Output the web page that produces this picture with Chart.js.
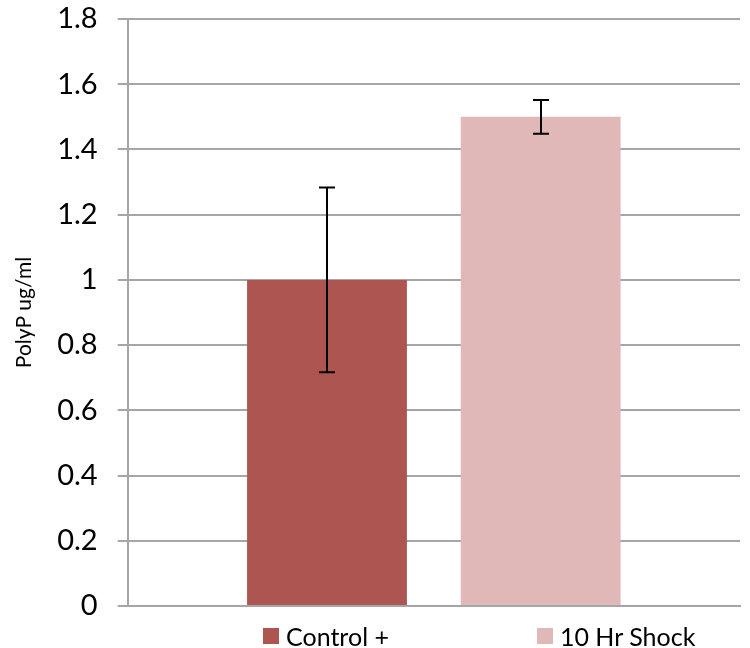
<!DOCTYPE html>
<html>
<head>
<meta charset="utf-8">
<script src="https://cdn.jsdelivr.net/npm/chart.js@4"></script>
<style>
  body { margin: 0; background: #fff; }
  .wrap { position: relative; width: 750px; height: 648px; }
  #legend {
    position: absolute; left: 263px; top: 621px;
    display: flex; align-items: center;
    font-family: Lato, "Open Sans", sans-serif; font-size: 25px; color: #000;
  }
  .item { display: flex; align-items: center; }
  .item + .item { margin-left: 148px; }
  .box { width: 16px; height: 16px; margin-right: 7px; }
</style>
</head>
<body>
<div class="wrap">
  <canvas id="polyp-chart" width="750" height="648"></canvas>
  <div id="legend"></div>
</div>
<script>
// bar chart with error bars

const categories = [''];
const seriesNames = ['Control +', '10 Hr Shock'];
const seriesValues = [[1.0], [1.5]];
const seriesErrors = [[0.283], [0.052]];
const seriesColors = ['#AD5651', '#E0B8B7'];
const yTicks = [0, 0.2, 0.4, 0.6, 0.8, 1, 1.2, 1.4, 1.6, 1.8];

const gridGray = '#A6A6A6';
const fontName = 'Lato, "Open Sans", sans-serif';

const polypCanvas = document.getElementById('polyp-chart');

const polypData = {
    labels: categories,
    datasets: seriesNames.map((name, i) => ({
        label: name,
        data: seriesValues[i],
        errors: seriesErrors[i],
        backgroundColor: seriesColors[i],
        borderWidth: 0,
        categoryPercentage: 0.698,
        barPercentage: 0.748
    }))
};

// draws the whiskers on top of each bar
const errorBars = {
    id: 'errorBars',
    afterDatasetsDraw(chart) {
        const ctx = chart.ctx;
        const yScale = chart.scales.y;
        ctx.save();
        ctx.strokeStyle = '#000';
        ctx.lineWidth = 2;
        chart.data.datasets.forEach((ds, i) => {
            const meta = chart.getDatasetMeta(i);
            meta.data.forEach((bar, j) => {
                const v = ds.data[j];
                const e = ds.errors[j];
                const top = yScale.getPixelForValue(v + e);
                const bottom = yScale.getPixelForValue(v - e);
                const x = Math.round(bar.x);
                const cap = 8;
                ctx.beginPath();
                ctx.moveTo(x, top);
                ctx.lineTo(x, bottom);
                ctx.moveTo(x - cap, top);
                ctx.lineTo(x + cap, top);
                ctx.moveTo(x - cap, bottom);
                ctx.lineTo(x + cap, bottom);
                ctx.stroke();
            });
        });
        ctx.restore();
    }
};

const polypOptions = {
    responsive: false,
    devicePixelRatio: 1,
    animation: false,
    layout: {
        padding: { top: 19, right: 10, left: 8, bottom: 34 }
    },
    scales: {
        x: {
            grid: { display: false },
            border: { color: gridGray, width: 2 },
            ticks: { display: false }
        },
        y: {
            min: 0,
            max: 1.8,
            afterBuildTicks: (axis) => {
                axis.ticks = yTicks.map(v => ({ value: v }));
            },
            // let the layout padding decide the top edge
            afterFit: (axis) => {
                axis.paddingTop = 0;
                axis.paddingBottom = 0;
            },
            grid: {
                color: gridGray,
                lineWidth: 2,
                tickLength: 10
            },
            border: { color: gridGray, width: 2 },
            ticks: {
                color: '#000',
                padding: 20,
                font: { family: fontName, size: 29 },
                callback: (v) => String(+v.toFixed(1))
            },
            title: {
                display: true,
                text: 'PolyP ug/ml',
                color: '#000',
                font: { family: fontName, size: 21 },
                padding: { top: 4, bottom: 0 }
            }
        }
    },
    plugins: {
        legend: { display: false },
        tooltip: { enabled: false }
    }
};

let polypChart = new Chart(polypCanvas, {
    type: 'bar',
    data: polypData,
    options: polypOptions,
    plugins: [errorBars]
});

// html legend built from the chart's own legend items
const legendBox = document.getElementById('legend');
const items = Chart.defaults.plugins.legend.labels.generateLabels(polypChart);
items.forEach(item => {
    const li = document.createElement('div');
    li.className = 'item';
    const box = document.createElement('span');
    box.className = 'box';
    box.style.background = item.fillStyle;
    const txt = document.createElement('span');
    txt.textContent = item.text;
    li.appendChild(box);
    li.appendChild(txt);
    legendBox.appendChild(li);
});
</script>
</body>
</html>
